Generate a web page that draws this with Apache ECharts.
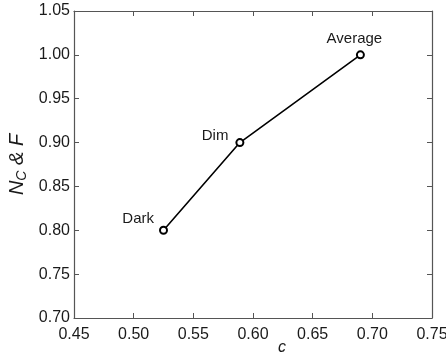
<!DOCTYPE html>
<html><head><meta charset="utf-8">
<script src="https://cdn.jsdelivr.net/npm/echarts@6/dist/echarts.min.js"></script>
<style>html,body{margin:0;padding:0;background:#fff}#c{width:446px;height:361px}</style>
</head><body><div id="c"></div>
<script>
const categories = ['Dark', 'Dim', 'Average'];
const cValues = [0.525, 0.589, 0.69];
const ncfValues = [0.80, 0.90, 1.00];
const labelPos = ['left', 'left', 'top'];
const labelOffsets = [[0, -11], [-2, -7], [-6, 1]];

const chart = echarts.init(document.getElementById('c'), null, {renderer: 'canvas'});
const axisCol = '#555';
const font = 'Liberation Sans, Arial, sans-serif';
const baseAxis = {
  axisLine: {show: true, lineStyle: {color: axisCol, width: 1.2}},
  axisTick: {show: true, inside: true, length: 5, lineStyle: {color: axisCol}},
  splitLine: {show: false}
};
const option = {
  animation: false,
  grid: {left: 74, right: 14, top: 11, bottom: 43, containLabel: false, outerBoundsMode: 'none'},
  xAxis: [
    Object.assign({}, baseAxis, {
      type: 'value', min: 0.45, max: 0.75, interval: 0.05,
      axisLabel: {color: '#1a1a1a', fontSize: 16, fontFamily: font, margin: 9, formatter: v => v.toFixed(2)},
      name: 'c', nameLocation: 'middle', nameGap: 22, nameMoveOverlap: false,
      nameTextStyle: {color: '#1a1a1a', fontSize: 16, fontFamily: font, fontStyle: 'italic', padding: [0, 0, 0, 58]}
    }),
    Object.assign({}, baseAxis, {
      type: 'value', min: 0.45, max: 0.75, interval: 0.05, position: 'top',
      axisLabel: {show: false}
    })
  ],
  yAxis: [
    Object.assign({}, baseAxis, {
      type: 'value', min: 0.70, max: 1.05, interval: 0.05,
      axisLabel: {color: '#1a1a1a', fontSize: 16, fontFamily: font, margin: 4, formatter: v => v.toFixed(2)},
      name: '{i|N}{s|C}{i| & F}', nameLocation: 'middle', nameGap: 45, nameMoveOverlap: false,
      nameTextStyle: {
        color: '#1a1a1a', fontFamily: font,
        rich: {
          i: {fontSize: 20, fontStyle: 'italic', fontFamily: font, color: '#1a1a1a'},
          s: {fontSize: 14, fontStyle: 'italic', fontFamily: font, color: '#1a1a1a', verticalAlign: 'bottom', padding: [9, 0, 0, 0]}
        }
      }
    }),
    Object.assign({}, baseAxis, {
      type: 'value', min: 0.70, max: 1.05, interval: 0.05, position: 'right',
      axisLabel: {show: false}
    })
  ],
  series: [{
    type: 'line',
    data: cValues.map((x, i) => ({
      value: [x, ncfValues[i]],
      name: categories[i],
      label: {show: true, position: labelPos[i], formatter: categories[i], offset: labelOffsets[i]}
    })),
    symbol: 'emptyCircle', symbolSize: 7,
    lineStyle: {color: '#000', width: 1.6},
    itemStyle: {color: '#000', borderColor: '#000', borderWidth: 1.5},
    label: {color: '#1a1a1a', fontSize: 15, fontFamily: font}
  }]
};
chart.setOption(option);
</script></body></html>
